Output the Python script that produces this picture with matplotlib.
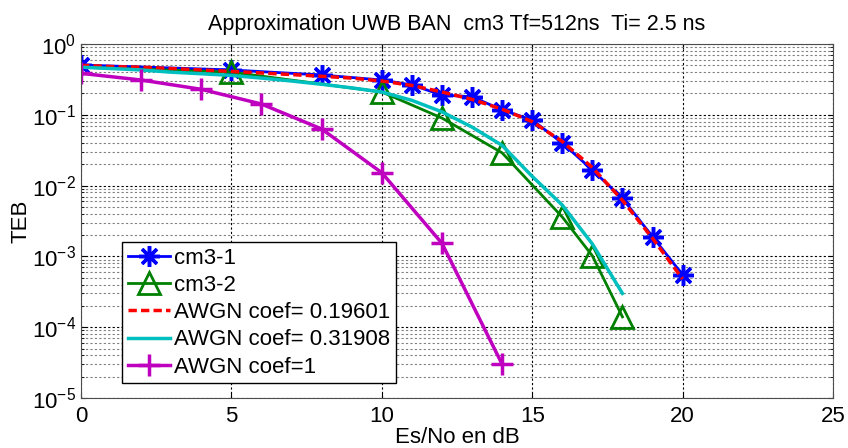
import matplotlib
matplotlib.use("Agg")
import matplotlib.pyplot as plt
from matplotlib import font_manager
from matplotlib.ticker import LogLocator, NullFormatter

# font: narrow Arial-like if available
names = {f.name for f in font_manager.fontManager.ttflist}
fam = "Liberation Sans Narrow" if "Liberation Sans Narrow" in names else "Liberation Sans"
plt.rcParams["font.family"] = [fam, "DejaVu Sans"]
plt.rcParams["mathtext.fontset"] = "custom"
plt.rcParams["mathtext.rm"] = fam

# cm3-1 (blue asterisks)
x_cm31 = [0, 5, 8, 10, 11, 12, 13, 14, 15, 16, 17, 18, 19, 20]
teb_cm31 = [0.505, 0.43, 0.365, 0.31, 0.264, 0.19, 0.18, 0.117, 0.0845, 0.040,
            0.0166, 0.0066, 0.0019, 0.00055]

# cm3-2 (green triangles)
x_cm32 = [0, 5, 10, 12, 14, 16, 17, 18]
teb_cm32 = [0.47, 0.40, 0.21, 0.09, 0.029, 0.0036, 0.00102, 0.00014]

# AWGN coef= 0.19601 (red dashed)
x_awgn1 = list(range(0, 21))
teb_awgn1 = [0.50, 0.48, 0.47, 0.45, 0.43, 0.41, 0.39, 0.37, 0.35, 0.33, 0.30,
             0.26, 0.21, 0.165, 0.12, 0.08, 0.042, 0.018, 0.0062, 0.0018, 0.00048]

# AWGN coef= 0.31908 (cyan)
x_awgn2 = list(range(0, 19))
teb_awgn2 = [0.47, 0.45, 0.43, 0.40, 0.38, 0.36, 0.33, 0.30, 0.27, 0.24, 0.21,
             0.16, 0.11, 0.067, 0.037, 0.0135, 0.0053, 0.0015, 0.0003]

# AWGN coef=1 (magenta plus)
x_awgn3 = [0, 2, 4, 6, 8, 10, 12, 14]
teb_awgn3 = [0.385, 0.31, 0.229, 0.142, 0.063, 0.0152, 0.00153, 3e-5]

fig = plt.figure(figsize=(8.48, 4.48), dpi=100)
ax = fig.add_axes([81 / 848, 50 / 448, 752 / 848, 354 / 448])

ax.semilogy(x_cm31, teb_cm31, "-", color="b", lw=2, marker=(8, 2, 0),
            ms=15, mew=2.5, label="cm3-1")
ax.semilogy(x_cm32, teb_cm32, "-", color=(0, 0.5, 0), lw=2, marker="^",
            ms=16, mew=2, mfc="none", markevery=list(range(1, len(x_cm32))),
            label="cm3-2")
ax.semilogy(x_awgn1, teb_awgn1, "--", color="r", lw=2.5, dashes=(2.4, 1.2),
            label="AWGN coef= 0.19601")
ax.semilogy(x_awgn2, teb_awgn2, "-", color=(0, 0.75, 0.75), lw=2.5,
            label="AWGN coef= 0.31908")
ax.semilogy(x_awgn3, teb_awgn3, "-", color=(0.75, 0, 0.75), lw=2.5, marker="+",
            ms=16, mew=2.5, label="AWGN coef=1")

ax.set_xlim(0, 25)
ax.set_ylim(1e-5, 1)
ax.set_xticks([0, 5, 10, 15, 20, 25])
ax.yaxis.set_major_locator(LogLocator(base=10, numticks=10))
ax.yaxis.set_minor_locator(LogLocator(base=10, subs=range(2, 10), numticks=20))
ax.yaxis.set_minor_formatter(NullFormatter())

ax.tick_params(which="both", direction="in", top=True, right=True, labelsize=16)
ax.tick_params(axis="x", pad=6)
ax.grid(which="major", ls=(0, (2, 2)), color="k", lw=0.8)
ax.grid(which="minor", axis="y", ls=(0, (2, 2)), color="0.5", lw=0.8)
for s in ax.spines.values():
    s.set_color("0.3")

ax.set_title("Approximation UWB BAN  cm3 Tf=512ns  Ti= 2.5 ns", fontsize=15.5, pad=10)
ax.set_xlabel("Es/No en dB", fontsize=16, labelpad=0)
ax.set_ylabel("TEB", fontsize=16, labelpad=0)

leg = ax.legend(loc="lower left", bbox_to_anchor=(0.0545, 0.042), borderaxespad=0,
                fontsize=16, numpoints=1, handlelength=1.9, handletextpad=0.2,
                labelspacing=0.28, fancybox=False, framealpha=1,
                borderpad=0.25)
leg.get_frame().set_edgecolor("k")
leg.get_frame().set_linewidth(1)

fig.savefig("out.png", dpi=100)
